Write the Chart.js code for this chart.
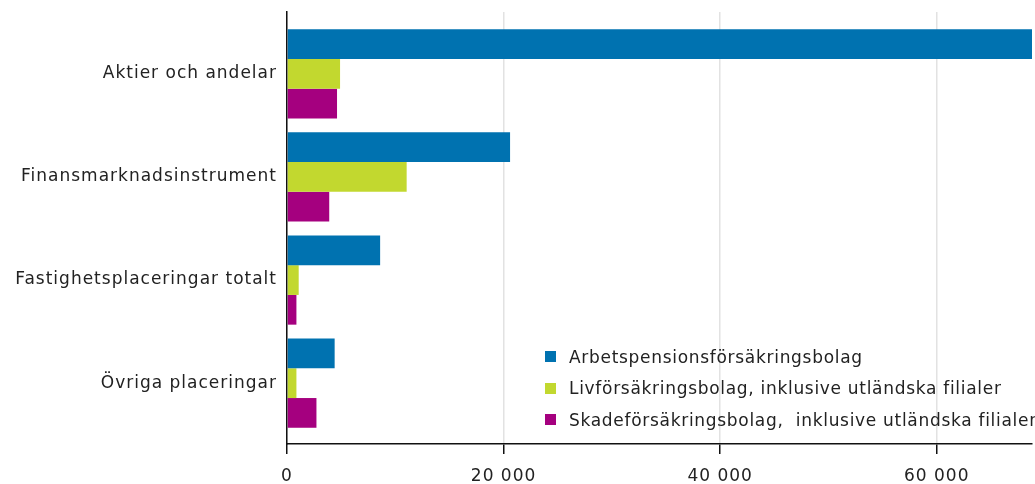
<!DOCTYPE html>
<html>
<head>
<meta charset="utf-8">
<script src="https://cdn.jsdelivr.net/npm/chart.js@4/dist/chart.umd.min.js"></script>
<style>
  html, body { margin: 0; padding: 0; background: #fff; }
  #wrap { position: relative; width: 1035px; height: 484px; }
  #legend {
    position: absolute; left: 545px; top: 341px;
    font: 17px "DejaVu Sans", sans-serif; letter-spacing: 0.7px; color: #222;
  }
  #legend .row { display: flex; align-items: center; height: 31.5px; white-space: pre; }
  #legend .box { width: 11px; height: 11px; margin-right: 13px; }
</style>
</head>
<body>
<div id="wrap">
  <canvas id="chart" width="1035" height="484"></canvas>
  <div id="legend"></div>
</div>
<script>
const categories = ["Aktier och andelar", "Finansmarknadsinstrument", "Fastighetsplaceringar totalt", "Övriga placeringar"]
const seriesNames = [
  "Arbetspensionsförsäkringsbolag",
  "Livförsäkringsbolag, inklusive utländska filialer",
  "Skadeförsäkringsbolag,  inklusive utländska filialer"
]
const arbetspension = [68800, 20600, 8600, 4400]
const livforsakring = [4900, 11050, 1080, 870]
const skadeforsakring = [4620, 3900, 870, 2720]
const xTicks = [0, 20000, 40000, 60000]
const colors = ["#0072B0", "#C2D82F", "#A5007F"]

const fontFamily = '"DejaVu Sans", sans-serif'

// canvas text in the picture is quite wide, add some tracking
const spacing = {
  id: "spacing",
  beforeLayout(chart) { chart.ctx.letterSpacing = "1px" },
  beforeDraw(chart) { chart.ctx.letterSpacing = "1px" }
}

const toPoints = values => values.map((v, i) => ({ x: v, y: i }))
const formatNumber = v => String(v).replace(/\B(?=(\d{3})+(?!\d))/g, " ")

const datasets = [arbetspension, livforsakring, skadeforsakring].map((values, i) => ({
  label: seriesNames[i],
  data: toPoints(values),
  backgroundColor: colors[i],
  borderWidth: 0,
  categoryPercentage: 0.865,
  barPercentage: 1
}))

const chart = new Chart(document.getElementById("chart"), {
  type: "bar",
  data: { datasets },
  plugins: [spacing],
  options: {
    indexAxis: "y",
    responsive: false,
    animation: false,
    layout: { padding: { top: 12, right: 3, left: 0, bottom: 0 } },
    plugins: {
      legend: { display: false },
      tooltip: { enabled: false }
    },
    scales: {
      x: {
        type: "linear",
        min: 0,
        max: Math.max(...arbetspension),
        offset: false,
        afterFit(scale) { scale.height = 40 },
        afterBuildTicks(scale) { scale.ticks = xTicks.map(v => ({ value: v })) },
        grid: {
          color: "#e2e2e2",
          lineWidth: 1.5,
          tickColor: "#111",
          tickLength: 10,
          tickWidth: 1.5
        },
        border: { color: "#111", width: 1.5 },
        ticks: {
          autoSkip: false,
          maxRotation: 0,
          padding: 12,
          color: "#222",
          font: { family: fontFamily, size: 17 },
          callback: v => formatNumber(v)
        }
      },
      y: {
        type: "linear",
        reverse: true,
        min: -0.6,
        max: 3.59,
        offset: false,
        afterFit(scale) {
          scale.width = 287
          scale.paddingTop = 0
          scale.paddingBottom = 0
        },
        afterBuildTicks(scale) { scale.ticks = categories.map((c, i) => ({ value: i })) },
        grid: { display: false, drawTicks: false },
        border: { color: "#111", width: 1.5 },
        ticks: {
          autoSkip: false,
          padding: 10,
          color: "#222",
          font: { family: fontFamily, size: 17 },
          callback: v => categories[v]
        }
      }
    }
  }
})

const legend = document.getElementById("legend")
chart.data.datasets.forEach(ds => {
  const row = document.createElement("div")
  row.className = "row"
  const box = document.createElement("span")
  box.className = "box"
  box.style.background = ds.backgroundColor
  const text = document.createElement("span")
  text.textContent = ds.label
  row.appendChild(box)
  row.appendChild(text)
  legend.appendChild(row)
})
</script>
</body>
</html>
